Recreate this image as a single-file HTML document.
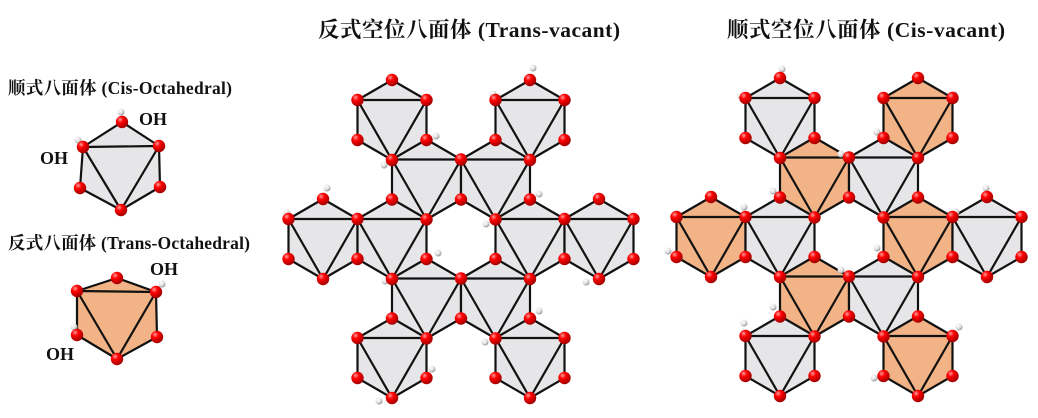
<!DOCTYPE html>
<html><head><meta charset="utf-8">
<style>
html,body{margin:0;padding:0;background:#fff;}
body{width:1038px;height:418px;position:relative;overflow:hidden;}
svg{position:absolute;left:0;top:0;}
text{font-family:"Liberation Serif","Noto Serif CJK SC",serif;fill:#111;}
</style></head>
<body>
<svg id="s" width="1038" height="418" viewBox="0 0 1038 418" xmlns="http://www.w3.org/2000/svg">
<defs>
<radialGradient id="rb" cx="0.35" cy="0.3" r="0.75">
<stop offset="0" stop-color="#ff9a9a"/><stop offset="0.35" stop-color="#f00"/><stop offset="1" stop-color="#900"/>
</radialGradient>
<radialGradient id="hb" cx="0.35" cy="0.3" r="0.75">
<stop offset="0" stop-color="#fff"/><stop offset="0.6" stop-color="#ddd"/><stop offset="1" stop-color="#888"/>
</radialGradient>
</defs>
<g id="hex"></g><g id="hh"></g><g id="balls"></g>
<text x="469" y="37" text-anchor="middle" font-size="21.5" font-weight="bold" textLength="302">反式空位八面体 (Trans-vacant)</text>
<text x="866" y="37" text-anchor="middle" font-size="21.5" font-weight="bold" textLength="278">顺式空位八面体 (Cis-vacant)</text>
<text x="8" y="94" font-size="17.5" font-weight="bold" textLength="224">顺式八面体 (Cis-Octahedral)</text>
<text x="8" y="249" font-size="17.5" font-weight="bold" textLength="242">反式八面体 (Trans-Octahedral)</text>
<text x="139" y="125" font-size="18" font-weight="bold">OH</text>
<text x="40" y="164" font-size="18" font-weight="bold">OH</text>
<text x="150" y="275" font-size="18" font-weight="bold">OH</text>
<text x="46" y="360" font-size="18" font-weight="bold">OH</text>
</svg>
<script>
var NS="http://www.w3.org/2000/svg";
var gH=document.getElementById('hex'),gB=document.getElementById('balls'),gh=document.getElementById('hh');
var balls=[];
function el(g,t,a){var e=document.createElementNS(NS,t);for(var k in a)e.setAttribute(k,a[k]);g.appendChild(e);return e;}
function addBall(p){for(var i=0;i<balls.length;i++){var b=balls[i];if(Math.abs(b[0]-p[0])<3&&Math.abs(b[1]-p[1])<3)return;}balls.push(p);}
function drawHex(v,fill){
 el(gH,'polygon',{points:v.map(function(p){return p.join(',')}).join(' '),fill:fill,stroke:'#111','stroke-width':2.2,'stroke-linejoin':'round'});
 var UL=v[5],UR=v[1],B=v[3];
 el(gH,'polyline',{points:[UL,UR,B,UL].map(function(p){return p.join(',')}).join(' '),fill:'none',stroke:'#111','stroke-width':2.2,'stroke-linejoin':'round'});
 v.forEach(addBall);
}
function regHex(cx,cy,w,R){return [[cx,cy-R],[cx+w,cy-R/2],[cx+w,cy+R/2],[cx,cy+R],[cx-w,cy+R/2],[cx-w,cy-R/2]];}
var G='#e6e6e8',O='#f2b386';
drawHex([[122,122],[159,146],[160,187],[121,210],[80,188],[83,147]],G);
drawHex([[117,278],[156,292],[157,337],[117,359],[77,335],[77,291]],O);
function net(x0,y0,cells){var w=34.5,R=40,dy=59.5;
 cells.forEach(function(c){var r=c[0],col=c[1];var cx=x0+col*2*w+(r%2?w:0),cy=y0+r*dy;drawHex(regHex(cx,cy,w,R),c[2]);});}
net(392,120,[[0,0,G],[0,2,G],[1,0,G],[1,1,G],[2,-1,G],[2,0,G],[2,2,G],[2,3,G],[3,0,G],[3,1,G],[4,0,G],[4,2,G]]);
net(780,118,[[0,0,G],[0,2,O],[1,0,O],[1,1,G],[2,-1,O],[2,0,G],[2,2,O],[2,3,G],[3,0,O],[3,1,G],[4,0,G],[4,2,O]]);
var Hs=[[121,112],[78,140],[162,284],[74,327],
[533,68],[493,94],[436,136],[384,165],[327,188],[287,213],[438,253],[486,224],[539,194],[385,281],[539,311],[485,342],[432,369],[379,401],[586,282],
[782,69],[741,96],[877,132],[954,94],[841,154],[773,191],[744,207],[668,251],[986,188],[956,212],[877,248],[841,270],[773,307],[744,323],[959,327],[874,378]];
Hs.forEach(function(p){el(gh,'circle',{cx:p[0],cy:p[1],r:3.5,fill:'url(#hb)'});});
balls.forEach(function(p){el(gB,'circle',{cx:p[0],cy:p[1],r:6.2,fill:'url(#rb)'});});
</script>
</body></html>
